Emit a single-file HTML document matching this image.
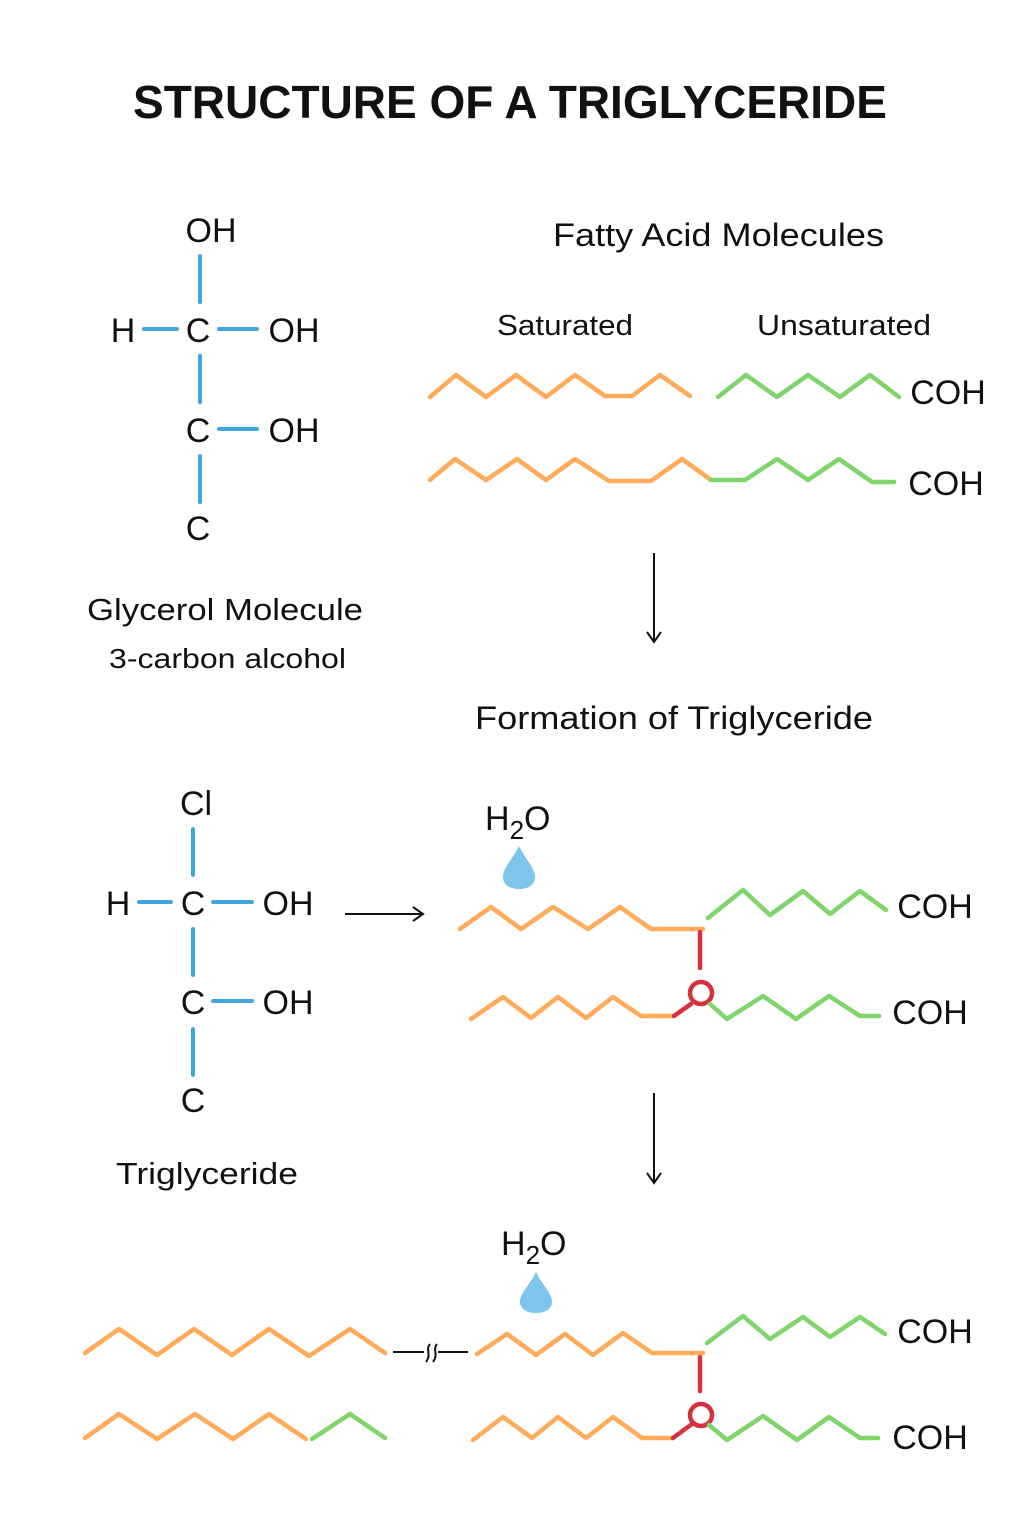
<!DOCTYPE html>
<html><head><meta charset="utf-8"><style>
html,body{margin:0;padding:0;background:#fff;}
svg{display:block;}
text{font-family:"Liberation Sans","DejaVu Sans",sans-serif;fill:#111;}
.o{stroke:#ffab5a;stroke-width:4.5;fill:none;stroke-linecap:round;stroke-linejoin:round;}
.g{stroke:#7fd46c;stroke-width:4.5;fill:none;stroke-linecap:round;stroke-linejoin:round;}
.r{stroke:#d4333e;stroke-width:4.5;fill:none;stroke-linecap:round;}
.b{stroke:#3ea6dc;stroke-width:4;stroke-linecap:round;}
.k{stroke:#111;stroke-width:2;fill:none;}
</style></head><body>
<svg width="1024" height="1536" viewBox="0 0 1024 1536" xmlns="http://www.w3.org/2000/svg">
<text x="510" y="118" font-size="46" font-weight="bold" text-anchor="middle">STRUCTURE OF A TRIGLYCERIDE</text>

<!-- Glycerol -->
<g font-size="34" text-anchor="middle">
<text x="211" y="242">OH</text>
<text x="123" y="342">H</text>
<text x="198" y="342">C</text>
<text x="294" y="342">OH</text>
<text x="198" y="442">C</text>
<text x="294" y="442">OH</text>
<text x="198" y="540">C</text>
</g>
<line class="b" x1="200" y1="256" x2="200" y2="302"/>
<line class="b" x1="144" y1="329" x2="177" y2="329"/>
<line class="b" x1="219" y1="329" x2="257" y2="329"/>
<line class="b" x1="200" y1="356" x2="200" y2="402"/>
<line class="b" x1="219" y1="429" x2="257" y2="429"/>
<line class="b" x1="200" y1="456" x2="200" y2="502"/>
<text x="87" y="620" font-size="31" textLength="276" lengthAdjust="spacingAndGlyphs">Glycerol Molecule</text>
<text x="109" y="668" font-size="28" textLength="237" lengthAdjust="spacingAndGlyphs">3-carbon alcohol</text>

<!-- Fatty acids -->
<text x="553" y="246" font-size="32" textLength="331" lengthAdjust="spacingAndGlyphs">Fatty Acid Molecules</text>
<text x="497" y="335" font-size="29" textLength="136" lengthAdjust="spacingAndGlyphs">Saturated</text>
<text x="757" y="335" font-size="29" textLength="174" lengthAdjust="spacingAndGlyphs">Unsaturated</text>
<polyline class="o" points="430,397 456,375 486,397 516,375 546,397 575,375 605,396 632,396 660,375 690,396"/>
<polyline class="g" points="718,397 746,375 777,397 808,375 840,397 870,375 899,397"/>
<text x="948" y="404" font-size="34" text-anchor="middle">COH</text>
<polyline class="o" points="430,480 455,459 486,480 517,459 546,480 575,459 609,481 651,481 682,459 711,480"/>
<polyline class="g" points="711,480 745,480 777,459 808,480 839,459 872,482 894,482"/>
<text x="946" y="495" font-size="34" text-anchor="middle">COH</text>

<line class="k" x1="654" y1="553" x2="654" y2="641"/>
<polyline class="k" points="647,632 654,642 661,632"/>
<text x="475" y="729" font-size="32" textLength="398" lengthAdjust="spacingAndGlyphs">Formation of Triglyceride</text>

<!-- Second structure -->
<g font-size="34" text-anchor="middle">
<text x="196" y="815">Cl</text>
<text x="118" y="915">H</text>
<text x="193" y="915">C</text>
<text x="288" y="915">OH</text>
<text x="193" y="1014">C</text>
<text x="288" y="1014">OH</text>
<text x="193" y="1112">C</text>
</g>
<line class="b" x1="193" y1="829" x2="193" y2="875"/>
<line class="b" x1="139" y1="902" x2="171" y2="902"/>
<line class="b" x1="213" y1="902" x2="252" y2="902"/>
<line class="b" x1="193" y1="929" x2="193" y2="975"/>
<line class="b" x1="213" y1="1001" x2="252" y2="1001"/>
<line class="b" x1="193" y1="1029" x2="193" y2="1075"/>
<text x="116" y="1184" font-size="31" textLength="182" lengthAdjust="spacingAndGlyphs">Triglyceride</text>

<line class="k" x1="345" y1="914" x2="422" y2="914"/>
<polyline class="k" points="413,907 423,914 413,921"/>

<!-- Formation group 1 -->
<text x="485" y="830" font-size="34">H<tspan font-size="26" dy="9">2</tspan><tspan dy="-9">O</tspan></text>
<path d="M519,846 C512,860 503,868 503,877 C503,885 510,889 519,889 C528,889 535,885 535,877 C535,868 526,860 519,846 Z" fill="#7cc6ec"/>
<polyline class="o" points="460,929 491,907 521,929 553,907 588,929 620,907 651,929 703,929"/>
<polyline class="g" points="708,918 743,890 770,915 803,891 830,914 860,891 886,910"/>
<text x="935" y="918" font-size="34" text-anchor="middle">COH</text>
<line class="r" x1="700" y1="932" x2="700" y2="968"/>
<polyline class="o" points="471,1019 503,997 531,1018 558,997 586,1018 613,997 641,1016 672,1016"/>
<polyline class="r" points="674,1016 691,1004"/>
<circle cx="701" cy="993" r="11" fill="#fff" stroke="#d4333e" stroke-width="4.5"/>
<polyline class="g" points="710,1004 727,1019 763,996 796,1019 829,996 860,1016 879,1016"/>
<text x="930" y="1024" font-size="34" text-anchor="middle">COH</text>

<line class="k" x1="654" y1="1093" x2="654" y2="1182"/>
<polyline class="k" points="647,1173 654,1183 661,1173"/>

<!-- Bottom group -->
<polyline class="o" points="85,1353 119,1329 157,1355 194,1329 232,1355 269,1329 309,1356 350,1329 385,1353"/>
<polyline class="o" points="85,1438 119,1414 157,1439 195,1414 233,1439 269,1414 306,1439"/>
<polyline class="g" points="312,1439 350,1414 385,1438"/>
<line class="k" x1="393" y1="1352" x2="424" y2="1352"/>
<line class="k" x1="438" y1="1352" x2="468" y2="1352"/>
<path d="M430,1344 C425,1350 432,1354 426,1362 M437,1344 C432,1350 439,1354 433,1362" class="k"/>

<text x="501" y="1255" font-size="34">H<tspan font-size="26" dy="9">2</tspan><tspan dy="-9">O</tspan></text>
<path d="M536,1272 C529,1286 520,1293 520,1302 C520,1309 527,1313 536,1313 C545,1313 552,1309 552,1302 C552,1293 543,1286 536,1272 Z" fill="#7cc6ec"/>
<polyline class="o" points="477,1354 507,1334 536,1355 565,1334 593,1355 623,1333 652,1353 703,1353"/>
<polyline class="g" points="707,1343 743,1316 770,1339 803,1317 830,1337 860,1317 885,1334"/>
<text x="935" y="1343" font-size="34" text-anchor="middle">COH</text>
<line class="r" x1="700" y1="1357" x2="700" y2="1391"/>
<polyline class="o" points="473,1440 503,1417 532,1438 558,1417 586,1438 613,1417 642,1438 673,1438"/>
<polyline class="r" points="673,1438 692,1424"/>
<circle cx="701" cy="1415" r="11" fill="#fff" stroke="#d4333e" stroke-width="4.5"/>
<polyline class="g" points="709,1425 727,1440 763,1416 797,1440 829,1417 860,1438 878,1438"/>
<text x="930" y="1449" font-size="34" text-anchor="middle">COH</text>
</svg>
</body></html>
